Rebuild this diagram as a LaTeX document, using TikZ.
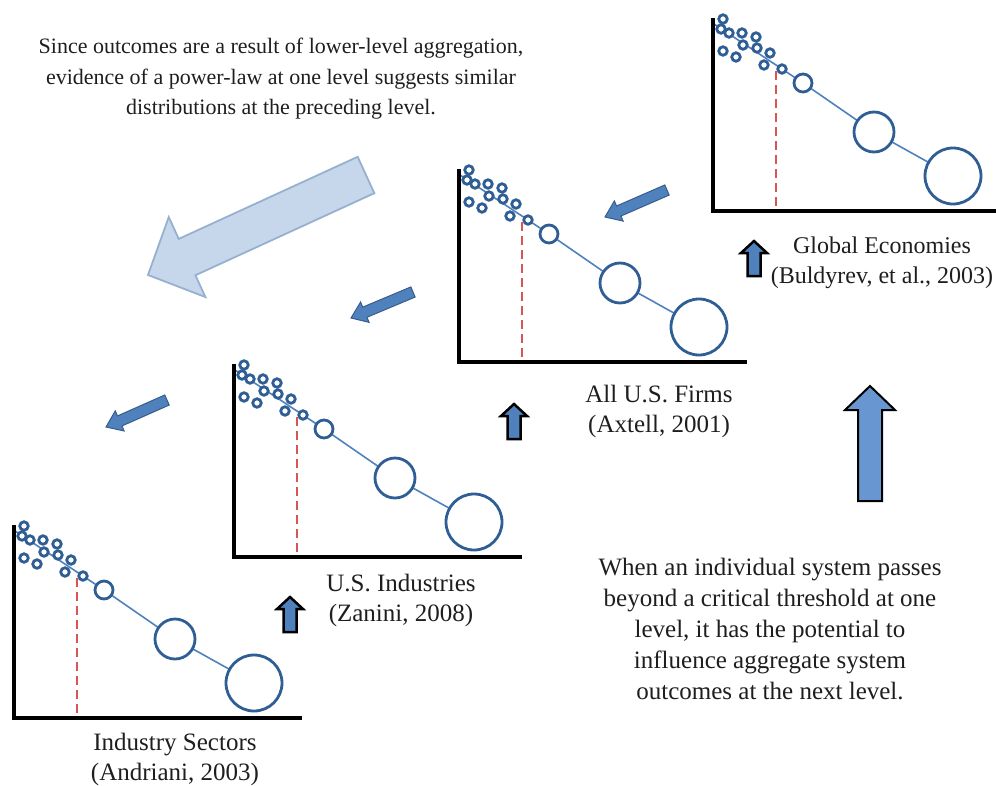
\documentclass[tikz,border=0pt]{standalone}
\usepackage{fontspec}
\setmainfont{Liberation Serif}
\usetikzlibrary{calc}
\definecolor{dotblue}{RGB}{47,94,149}
\definecolor{lineblue}{RGB}{79,129,189}
\definecolor{dashred}{RGB}{215,85,85}
\definecolor{arrowblue}{RGB}{79,129,189}
\definecolor{arrowedge}{RGB}{56,93,138}
\definecolor{paleblue}{RGB}{198,215,236}
\definecolor{paleedge}{RGB}{150,176,208}
\definecolor{upblue}{RGB}{103,150,208}
\definecolor{textgray}{RGB}{30,30,30}

\newcommand{\fatarrow}[6]{%
  \coordinate (fa-hb) at ($(#2)!#5!(#1)$);
  \draw[#6] ($(#1)!#3!90:(#2)$) -- ($(fa-hb)!#3!90:(#2)$) -- ($(fa-hb)!#4!90:(#2)$)
    -- (#2) -- ($(fa-hb)!#4!-90:(#2)$) -- ($(fa-hb)!#3!-90:(#2)$)
    -- ($(#1)!#3!-90:(#2)$) -- cycle;
}

\tikzset{
  sdot/.style={circle, draw=dotblue, fill=white, line width=2.8pt, minimum size=8.5pt, inner sep=0pt},
  bdot/.style={circle, draw=dotblue, fill=white, line width=2.8pt, inner sep=0pt},
  trend/.style={draw=lineblue, line width=1.6pt},
  dashline/.style={draw=dashred, line width=2.4pt, dash pattern=on 9pt off 5pt},
  axisline/.style={draw=black, line width=4pt, line join=miter},
  lbl/.style={align=center, text=textgray, font=\fontsize{25}{30}\selectfont, inner sep=0pt},
  toptext/.style={align=center, text=textgray, font=\fontsize{22}{30.5}\selectfont, inner sep=0pt},
  bottext/.style={align=center, text=textgray, font=\fontsize{25}{31}\selectfont, inner sep=0pt},
  darrow/.style={fill=arrowblue, draw=arrowedge, line width=1pt, line join=miter},
  uparrow/.style={fill=arrowblue, draw=black, line width=2.5pt, line join=miter},
  bigup/.style={fill=upblue, draw=black, line width=2pt, line join=miter},
  palearrow/.style={fill=paleblue, draw=paleedge, line width=1.8pt, line join=miter},
  powerchart/.pic={
    \draw[dashline] (63,-140) -- (63,0);
    \coordinate (-s) at (1,-187);
    \coordinate (-p12) at (69,-142);
    \coordinate (-pm) at (90,-128);
    \coordinate (-pl) at (161,-79);
    \coordinate (-px) at (240,-35);
    \draw[trend] (-s) -- (-p12) -- (-pm) -- (-pl) -- (-px);
    \foreach \n/\x/\y in {1/10/-192, 2/8/-182, 3/16/-178, 4/29/-178, 5/43/-174,
        6/30/-166, 7/44/-163, 8/10/-160, 9/23/-154, 10/57/-158, 11/51/-146}
      \node[sdot] (-d\n) at (\x,\y) {};
    \node[sdot] (-d12) at (-p12) {};
    \node[bdot, minimum size=18pt] (-m) at (-pm) {};
    \node[bdot, minimum size=40pt] (-l) at (-pl) {};
    \node[bdot, minimum size=56pt] (-x) at (-px) {};
    \draw[axisline] (0,-193) -- (0,0) -- (288,0);
  }
}

\begin{document}
\begin{tikzpicture}[x=1pt, y=-1pt]
\useasboundingbox (0,0) rectangle (996,785);
\clip (0,0) rectangle (996,785);

% charts
\pic (A) at (14,718) {powerchart};
\pic (B) at (234,557) {powerchart};
\pic (C) at (459,362) {powerchart};
\pic (D) at (713,211) {powerchart};

% labels
\node[lbl] (lA) at (175,759) {Industry Sectors\\(Andriani, 2003)};
\node[lbl] (lB) at (401,600) {U.S. Industries\\(Zanini, 2008)};
\node[lbl] (lC) at (659,411) {All U.S. Firms\\(Axtell, 2001)};
\node[lbl, font=\fontsize{24}{30}\selectfont] (lD) at (882,263) {Global Economies\\(Buldyrev, et al., 2003)};

\node[toptext] (top) at (281,79) {Since outcomes are a result of lower-level aggregation,\\
  evidence of a power-law at one level suggests similar\\
  distributions at the preceding level.};
\node[bottext] (bot) at (770,629) {When an individual system passes\\
  beyond a critical threshold at one\\
  level, it has the potential to\\
  influence aggregate system\\
  outcomes at the next level.};

% big pale arrow
\coordinate (pa-t) at (366,175);
\coordinate (pa-h) at (148,275);
\fatarrow{pa-t}{pa-h}{20pt}{44pt}{43pt}{palearrow}

% small diagonal arrows
\coordinate (d1-t) at (667,190); \coordinate (d1-h) at (605,217);
\coordinate (d2-t) at (413,292); \coordinate (d2-h) at (351,318);
\coordinate (d3-t) at (167,400); \coordinate (d3-h) at (106,427);
\fatarrow{d1-t}{d1-h}{5.5pt}{11pt}{15pt}{darrow}
\fatarrow{d2-t}{d2-h}{5.5pt}{11pt}{15pt}{darrow}
\fatarrow{d3-t}{d3-h}{5.5pt}{11pt}{15pt}{darrow}

% small up arrows
\coordinate (u1-t) at (754,276); \coordinate (u1-h) at (754,241);
\coordinate (u2-t) at (514,439); \coordinate (u2-h) at (514,404);
\coordinate (u3-t) at (290,632); \coordinate (u3-h) at (290,597);
\fatarrow{u1-t}{u1-h}{6.5pt}{13pt}{12pt}{uparrow}
\fatarrow{u2-t}{u2-h}{6.5pt}{13pt}{12pt}{uparrow}
\fatarrow{u3-t}{u3-h}{6.5pt}{13pt}{12pt}{uparrow}

% big up arrow
\coordinate (bu-t) at (870,501); \coordinate (bu-h) at (870,386);
\fatarrow{bu-t}{bu-h}{12pt}{25pt}{24pt}{bigup}
\end{tikzpicture}
\end{document}
